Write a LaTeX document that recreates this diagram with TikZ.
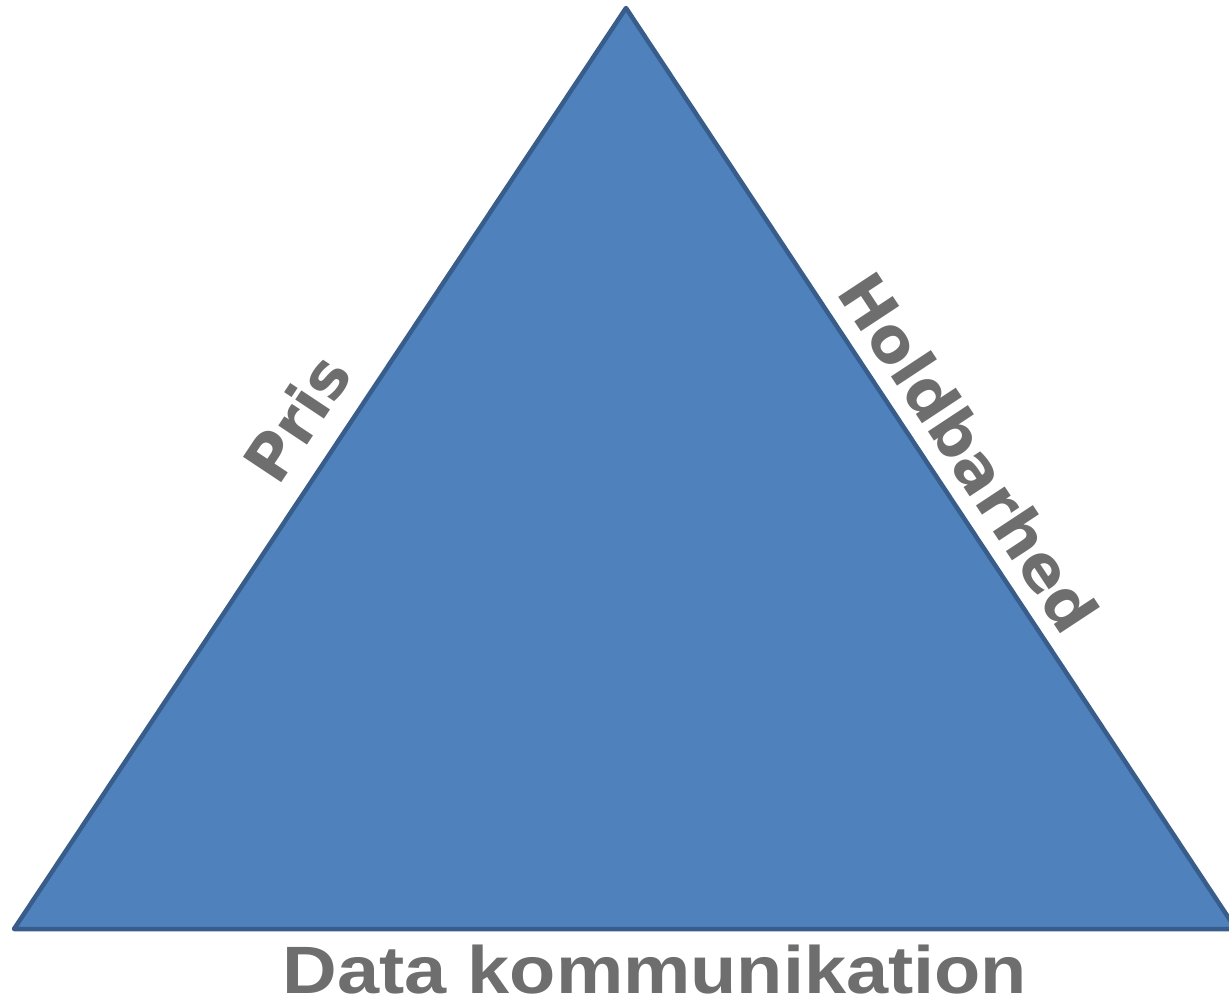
\documentclass[tikz,border=0pt]{standalone}
\usepackage{fontspec}
\newfontfamily\sidefont{DejaVu Sans}
\newfontfamily\basefont{Liberation Sans}
\definecolor{trifill}{HTML}{4F81BD}
\definecolor{triline}{HTML}{385D8A}
\definecolor{labelgray}{HTML}{6E6E6E}
\begin{document}
\begin{tikzpicture}[x=1pt,y=-1pt,
  sidelabel/.style={text=labelgray,font=\sidefont\bfseries\fontsize{63}{66}\selectfont,inner sep=0pt},
  baselabel/.style={text=labelgray,font=\basefont\bfseries\fontsize{67}{72}\selectfont,inner sep=0pt,xscale=1.13,text depth=0pt}]
\useasboundingbox (0,0) rectangle (1229,1002);
\coordinate (top) at (626,8);
\coordinate (bl) at (14,929);
\coordinate (br) at (1236,929);
\draw[fill=trifill,draw=triline,line width=4.5pt,line join=round] (top) -- (bl) -- (br) -- cycle;
\node[sidelabel,rotate=56.4] (pris) at (297,418) {Pris};
\node[sidelabel,rotate=-56.6] (hold) at (969,452) {Holdbarhed};
\node[baselabel,anchor=base] (data) at (655,993) {Data kommunikation};
\end{tikzpicture}
\end{document}
